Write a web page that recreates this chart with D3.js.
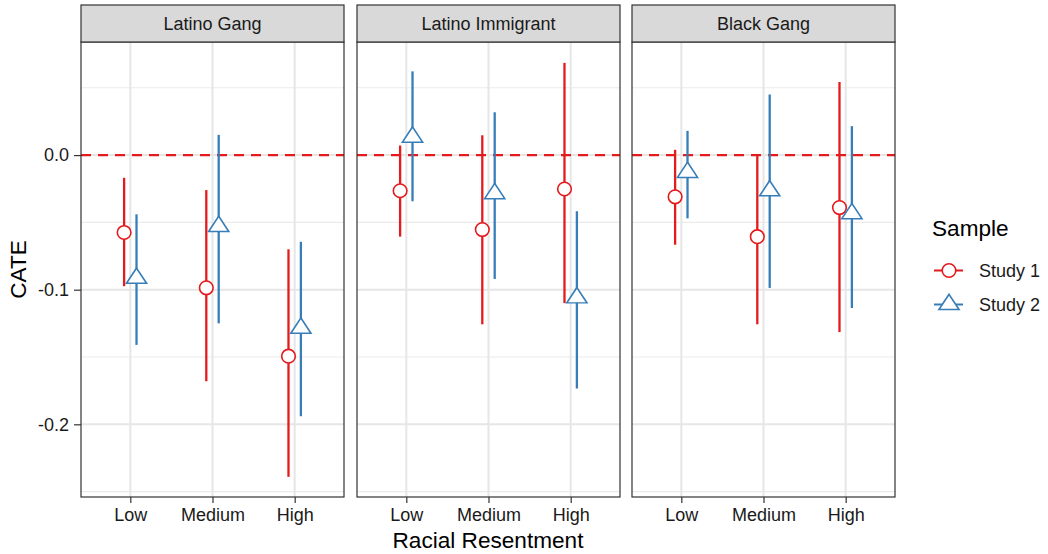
<!DOCTYPE html>
<html>
<head>
<meta charset="utf-8">
<script src="https://cdn.jsdelivr.net/npm/d3@7"></script>
<style>
  body { margin: 0; background: #fff; }
  svg text { font-family: "Liberation Sans", Arial, Helvetica, sans-serif; }
</style>
</head>
<body>
<svg id="chart" width="1048" height="554"></svg>
<script>
// Facets, levels and samples
const facets = ["Latino Gang", "Latino Immigrant", "Black Gang"];
const levels = ["Low", "Medium", "High"];
const samples = ["Study 1", "Study 2"];
const yTicks = [0.0, -0.1, -0.2];
const yTickLabels = ["0.0", "-0.1", "-0.2"];
const yMinor = [0.05, -0.05, -0.15, -0.25];

// Conditional average treatment effects: one array per facet & sample, ordered Low/Medium/High
const study1Est = [[-0.0575, -0.0986, -0.1494], [-0.0265, -0.0553, -0.0252], [-0.0310, -0.0606, -0.0390]];
const study1Lo  = [[-0.0974, -0.1680, -0.2390], [-0.0606, -0.1257, -0.1100], [-0.0666, -0.1257, -0.1315]];
const study1Hi  = [[-0.0169, -0.0260, -0.0700], [ 0.0071,  0.0147,  0.0685], [ 0.0039,  0.0000,  0.0543]];
const study2Est = [[-0.0915, -0.0530, -0.1286], [ 0.0134, -0.0286, -0.1060], [-0.0128, -0.0265, -0.0435]];
const study2Lo  = [[-0.1410, -0.1250, -0.1940], [-0.0343, -0.0920, -0.1734], [-0.0470, -0.0987, -0.1136]];
const study2Hi  = [[-0.0440,  0.0150, -0.0644], [ 0.0622,  0.0318, -0.0417], [ 0.0180,  0.0450,  0.0215]];

const colors = { "Study 1": "#E41A1C", "Study 2": "#377EB8" };

const svg = d3.select("#chart");

const panelLeft = [81, 357, 632];
const panelW = 263;
const stripTop = 5, stripH = 37;
const plotTop = stripTop + stripH, plotBottom = 497;

const y = d3.scaleLinear().domain([-0.254, 0.084]).range([plotBottom, plotTop]);
const x = d3.scalePoint().domain(levels).range([0, panelW]).padding(0.6);
const dodge = d3.scalePoint().domain(samples).range([-6.2, 6.2]);

// build rows from the arrays
const rows = [];
facets.forEach((f, fi) => {
  levels.forEach((l, li) => {
    rows.push({ facet: fi, level: l, sample: "Study 1", est: study1Est[fi][li], lo: study1Lo[fi][li], hi: study1Hi[fi][li] });
    rows.push({ facet: fi, level: l, sample: "Study 2", est: study2Est[fi][li], lo: study2Lo[fi][li], hi: study2Hi[fi][li] });
  });
});

const triangle = d3.symbol().type(d3.symbolTriangle).size(160);

facets.forEach((f, fi) => {
  const g = svg.append("g").attr("transform", `translate(${panelLeft[fi]},0)`);

  // panel background
  g.append("rect").attr("x", 0).attr("y", plotTop).attr("width", panelW).attr("height", plotBottom - plotTop).attr("fill", "#fff");

  // minor grid
  g.selectAll(".minor").data(yMinor).join("line")
    .attr("x1", 0).attr("x2", panelW)
    .attr("y1", d => y(d)).attr("y2", d => y(d))
    .attr("stroke", "#EBEBEB").attr("stroke-width", 1.1);
  // major grid
  g.selectAll(".major").data(yTicks).join("line")
    .attr("x1", 0).attr("x2", panelW)
    .attr("y1", d => y(d)).attr("y2", d => y(d))
    .attr("stroke", "#E6E6E6").attr("stroke-width", 2);
  g.selectAll(".vmajor").data(levels).join("line")
    .attr("x1", d => x(d)).attr("x2", d => x(d))
    .attr("y1", plotTop).attr("y2", plotBottom)
    .attr("stroke", "#E6E6E6").attr("stroke-width", 2);

  // reference line at zero
  g.append("line").attr("x1", 0).attr("x2", panelW)
    .attr("y1", y(0)).attr("y2", y(0))
    .attr("stroke", "#E41A1C").attr("stroke-width", 2.2).attr("stroke-dasharray", "10,7");

  const data = rows.filter(r => r.facet === fi);

  // error bars
  g.selectAll(".err").data(data).join("line")
    .attr("x1", d => x(d.level) + dodge(d.sample)).attr("x2", d => x(d.level) + dodge(d.sample))
    .attr("y1", d => y(d.lo)).attr("y2", d => y(d.hi))
    .attr("stroke", d => colors[d.sample]).attr("stroke-width", 2.3);

  // point estimates
  g.selectAll(".pt1").data(data.filter(d => d.sample === "Study 1")).join("circle")
    .attr("cx", d => x(d.level) + dodge(d.sample)).attr("cy", d => y(d.est))
    .attr("r", 6.8).attr("fill", "#fff").attr("stroke", colors["Study 1"]).attr("stroke-width", 1.6);
  g.selectAll(".pt2").data(data.filter(d => d.sample === "Study 2")).join("path")
    .attr("d", triangle)
    .attr("transform", d => `translate(${x(d.level) + dodge(d.sample)},${y(d.est)}) scale(1.05,0.92)`)
    .attr("fill", "#fff").attr("stroke", colors["Study 2"]).attr("stroke-width", 1.6);

  // panel border
  g.append("rect").attr("x", 0).attr("y", plotTop).attr("width", panelW).attr("height", plotBottom - plotTop)
    .attr("fill", "none").attr("stroke", "#333").attr("stroke-width", 1.2);

  // strip
  g.append("rect").attr("x", 0).attr("y", stripTop).attr("width", panelW).attr("height", stripH)
    .attr("fill", "#D9D9D9").attr("stroke", "#333").attr("stroke-width", 1.2);
  g.append("text").attr("x", panelW / 2).attr("y", stripTop + stripH / 2).attr("dy", "0.35em")
    .attr("text-anchor", "middle").attr("font-size", 18).attr("fill", "#1A1A1A").text(f);

  // x axis
  const xa = g.append("g").attr("transform", `translate(0,${plotBottom})`)
    .call(d3.axisBottom(x).tickSize(6).tickPadding(5));
  xa.select(".domain").remove();
  xa.selectAll(".tick line").attr("stroke", "#333").attr("stroke-width", 1.2);
  xa.selectAll(".tick text").attr("font-size", 18).attr("fill", "#1A1A1A");

  // y axis on first panel only
  if (fi === 0) {
    const ya = g.append("g")
      .call(d3.axisLeft(y).tickValues(yTicks)
        .tickFormat((d, i) => yTickLabels[i]).tickSize(7).tickPadding(5));
    ya.select(".domain").remove();
    ya.selectAll(".tick line").attr("stroke", "#333").attr("stroke-width", 1.2);
    ya.selectAll(".tick text").attr("font-size", 18).attr("fill", "#1A1A1A");
  }
});

// axis titles
svg.append("text")
  .attr("transform", `translate(26,${(plotTop + plotBottom) / 2}) rotate(-90)`)
  .attr("text-anchor", "middle").attr("font-size", 22.6).attr("fill", "#000").text("CATE");
svg.append("text")
  .attr("x", (panelLeft[0] + panelLeft[2] + panelW) / 2).attr("y", 548)
  .attr("text-anchor", "middle").attr("font-size", 22.6).attr("fill", "#000").text("Racial Resentment");

// legend
const lg = svg.append("g").attr("transform", "translate(932,0)");
lg.append("text").attr("x", 0).attr("y", 236).attr("font-size", 22.6).attr("fill", "#000").text("Sample");
const keyY = [270.5, 304.5];
samples.forEach((s, i) => {
  const row = lg.append("g").attr("transform", `translate(0,${keyY[i]})`);
  row.append("line").attr("x1", 2).attr("x2", 31).attr("y1", 0).attr("y2", 0)
    .attr("stroke", colors[s]).attr("stroke-width", 2.0);
  if (i === 0) {
    row.append("circle").attr("cx", 17).attr("cy", 0).attr("r", 6.8)
      .attr("fill", "#fff").attr("stroke", colors[s]).attr("stroke-width", 1.6);
  } else {
    row.append("path").attr("d", triangle)
      .attr("transform", "translate(17,0) scale(1.05,0.92)")
      .attr("fill", "#fff").attr("stroke", colors[s]).attr("stroke-width", 1.6);
  }
  row.append("text").attr("x", 47).attr("y", 0).attr("dy", "0.35em")
    .attr("font-size", 18).attr("fill", "#1A1A1A").text(s);
});
</script>
</body>
</html>
